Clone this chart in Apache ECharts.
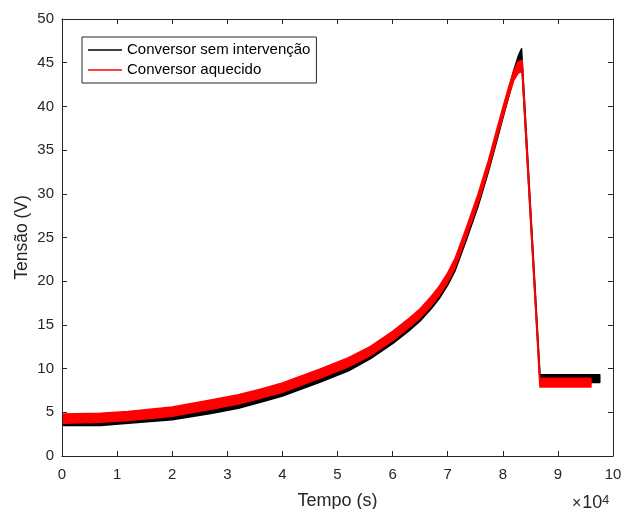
<!DOCTYPE html>
<html><head><meta charset="utf-8">
<script src="https://cdn.jsdelivr.net/npm/echarts@6/dist/echarts.min.js"></script>
<style>html,body{margin:0;padding:0;background:#fff}#c{width:622px;height:509px}</style>
</head><body><div id="c"></div>
<script>
// Time in seconds; envelopes (min / max) of the noisy voltage traces, in volts
const tempoPreto = [300, 7000, 12000, 16000, 20000, 27000, 32000, 36000, 40000, 47000, 52000, 56000, 60000, 63000, 65000, 67000, 68500, 70000, 71300, 73400, 75500, 77400, 79000, 80000, 81000, 82000, 82800, 83400, 86750, 97600];
const pretoMin  = [3.5, 3.5, 3.75, 3.95, 4.15, 4.85, 5.45, 6.15, 6.85, 8.5, 9.75, 11.15, 12.85, 14.35, 15.45, 16.85, 18.05, 19.55, 21.15, 24.75, 28.55, 32.55, 36.25, 38.65, 40.95, 43.25, 44.85, 45.3, 8.4, 8.4];
const pretoMax  = [4.4, 4.4, 4.65, 4.85, 5.05, 5.75, 6.35, 7.05, 7.75, 9.4, 10.65, 12.05, 13.75, 15.25, 16.35, 17.75, 18.95, 20.45, 22.05, 25.65, 29.45, 33.45, 37.15, 39.55, 41.85, 44.15, 45.75, 46.6, 9.3, 9.3];

const tempoVermelho = [300, 7000, 12000, 16000, 20000, 27000, 32000, 36000, 40000, 47000, 52000, 56000, 60000, 63000, 65000, 67000, 68500, 70000, 71300, 73400, 75500, 77400, 79000, 80000, 81000, 82000, 82800, 83500, 86750, 96000];
const vermelhoMin = [3.75, 3.85, 4.05, 4.3, 4.55, 5.35, 5.95, 6.6, 7.3, 8.95, 10.2, 11.5, 13.2, 14.7, 15.8, 17.2, 18.4, 19.9, 21.5, 25.1, 28.9, 32.8, 36.5, 38.8, 41.0, 43.0, 43.8, 44.0, 7.9, 7.9];
const vermelhoMax = [4.8, 4.9, 5.1, 5.35, 5.6, 6.4, 7.0, 7.65, 8.35, 10.0, 11.25, 12.55, 14.25, 15.75, 16.85, 18.25, 19.45, 20.95, 22.55, 26.15, 29.95, 33.85, 37.55, 39.85, 42.05, 44.1, 45.1, 45.3, 8.9, 8.9];

const nomes = ['Conversor sem intervenção', 'Conversor aquecido'];
const xMin = 0, xMax = 100000, xStep = 10000;
const yMin = 0, yMax = 50, yStep = 5;

const FONT = "'Liberation Sans', Arial, Helvetica, sans-serif";
const TXT = '#262626';

function band(tempo, lo, hi) {
  return tempo.map((t, i) => [t, lo[i], hi[i]]);
}
function bandRenderer(tempo, lo, hi, color) {
  return function (params, api) {
    if (params.dataIndex !== 0) return null;
    const pts = [];
    for (let i = 0; i < tempo.length; i++) pts.push(api.coord([tempo[i], hi[i]]));
    for (let i = tempo.length - 1; i >= 0; i--) pts.push(api.coord([tempo[i], lo[i]]));
    return {
      type: 'polygon',
      shape: { points: pts },
      style: { fill: color, stroke: color, lineWidth: 1.5, lineJoin: 'round' }
    };
  };
}

const chart = echarts.init(document.getElementById('c'), null, { renderer: 'canvas' });

const axisCommon = {
  axisLine: { show: true, onZero: false, lineStyle: { color: TXT, width: 1 } },
  axisTick: { show: true, inside: true, length: 5, lineStyle: { color: TXT, width: 1 } },
  splitLine: { show: false }
};

chart.setOption({
  animation: false,
  backgroundColor: '#fff',
  grid: { left: 62, top: 19, right: 9, bottom: 53, containLabel: false, outerBoundsMode: 'none' },
  xAxis: [
    Object.assign({
      type: 'value', min: xMin, max: xMax, interval: xStep, position: 'bottom',
      name: 'Tempo (s)', nameLocation: 'middle', nameGap: 36, nameMoveOverlap: false,
      nameTextStyle: { color: TXT, fontSize: 18, fontFamily: FONT },
      axisLabel: { color: TXT, fontSize: 15, fontFamily: FONT, margin: 11,
        formatter: v => String(Math.round(v / 10000)) }
    }, axisCommon),
    Object.assign({
      type: 'value', min: xMin, max: xMax, interval: xStep, position: 'top',
      axisLabel: { show: false }
    }, axisCommon)
  ],
  yAxis: [
    Object.assign({
      type: 'value', min: yMin, max: yMax, interval: yStep, position: 'left',
      name: 'Tensão (V)', nameLocation: 'middle', nameGap: 31, nameMoveOverlap: false,
      nameTextStyle: { color: TXT, fontSize: 17.5, fontFamily: FONT },
      axisLabel: { color: TXT, fontSize: 15, fontFamily: FONT, margin: 8 }
    }, axisCommon),
    Object.assign({
      type: 'value', min: yMin, max: yMax, interval: yStep, position: 'right',
      axisLabel: { show: false }
    }, axisCommon)
  ],
  legend: {
    left: 82, top: 37, orient: 'vertical',
    padding: [5.5, 6, 5.5, 6],
    itemGap: 5, itemWidth: 34, itemHeight: 1.6,
    borderColor: TXT, borderWidth: 1, backgroundColor: '#fff',
    selectedMode: false,
    textStyle: { color: '#000', fontSize: 15, fontFamily: FONT },
    data: [{ name: nomes[0], icon: 'rect' }, { name: nomes[1], icon: 'rect' }]
  },
  graphic: [{
    type: 'text', left: 572, top: 494,
    style: {
      text: '{a|×}{b|10}{c|4}',
      rich: {
        a: { fontSize: 16, fontFamily: FONT, fill: TXT, verticalAlign: 'bottom', padding: [0, 1, 0, 0] },
        b: { fontSize: 18, fontFamily: FONT, fill: TXT, verticalAlign: 'bottom' },
        c: { fontSize: 12.5, fontFamily: FONT, fill: TXT, verticalAlign: 'top' }
      }
    }
  }],
  series: [
    {
      type: 'custom', name: nomes[0], xAxisIndex: 0, yAxisIndex: 0,
      itemStyle: { color: '#000000' },
      encode: { x: 0, y: [1, 2] },
      data: band(tempoPreto, pretoMin, pretoMax),
      renderItem: bandRenderer(tempoPreto, pretoMin, pretoMax, '#000000'),
      z: 2
    },
    {
      type: 'custom', name: nomes[1], xAxisIndex: 0, yAxisIndex: 0,
      itemStyle: { color: '#ff0000' },
      encode: { x: 0, y: [1, 2] },
      data: band(tempoVermelho, vermelhoMin, vermelhoMax),
      renderItem: bandRenderer(tempoVermelho, vermelhoMin, vermelhoMax, '#ff0000'),
      z: 3
    }
  ]
});
</script>
</body></html>
